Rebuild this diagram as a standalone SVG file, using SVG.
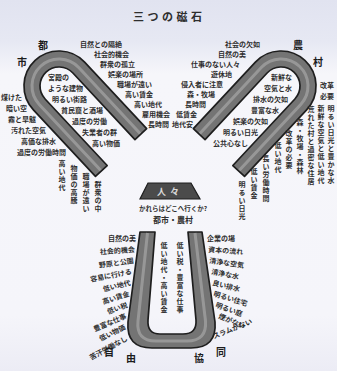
<svg xmlns="http://www.w3.org/2000/svg" width="337" height="371" viewBox="0 0 337 371">
<defs>
<linearGradient id="bg" x1="0" y1="0" x2="0" y2="1">
<stop offset="0" stop-color="#e1e3f0"/>
<stop offset="0.11" stop-color="#e6e8f3"/>
<stop offset="0.2" stop-color="#f6f6fa"/>
<stop offset="0.85" stop-color="#f5f5fa"/>
<stop offset="1" stop-color="#ececf5"/>
</linearGradient>
<path id="hs" d="M-35,91 L-35,0 A35,35 0 0 1 35,0 L35,91 L19,91 L19,0 A19,19 0 0 0 -19,0 L-19,91 Z"/>
<path id="hsl" d="M-27,90 L-27,0 A27,27 0 0 1 27,0 L27,90"/>
</defs>
<style>
.t{font-family:"Noto Sans CJK JP","Noto Sans CJK SC",sans-serif;font-size:7px;font-weight:700;fill:#2e2e2e}
.v{writing-mode:vertical-rl;letter-spacing:1px}
.e{text-anchor:end}
.m{text-anchor:middle}
.lb{font-size:10px;fill:#1c1c1c}
.mag{fill:#747474;stroke:#1e1e1e;stroke-width:1.7;stroke-linejoin:round}
.hl{fill:none;stroke:#ababab;stroke-width:3;opacity:.65}
</style>
<rect width="337" height="371" fill="url(#bg)"/>

<g id="title"><text class="t" x="133" y="21" style="font-size:11px;letter-spacing:3.5px">三つの磁石</text></g>

<g id="town">
<g transform="translate(59,86) rotate(-43)">
<use href="#hs" class="mag"/>
<use href="#hsl" class="hl"/>
</g>
<text class="t lb" x="38" y="49">都</text>
<text class="t lb" x="17" y="66">市</text>
<text class="t" x="80" y="47">自然との隔絶</text>
<text class="t" x="94" y="57">社会的機会</text>
<text class="t" x="100" y="67">群衆の孤立</text>
<text class="t" x="108" y="77">娯楽の場所</text>
<text class="t" x="117" y="87">職場が遠い</text>
<text class="t" x="125" y="97">高い賃金</text>
<text class="t" x="134" y="107">高い地代</text>
<text class="t" x="142" y="117">雇用機会</text>
<text class="t" x="148" y="127">長時間</text>
<text class="t" x="48" y="80">宮殿の</text>
<text class="t" x="48" y="91">ような建物</text>
<text class="t" x="52" y="102">明るい街路</text>
<text class="t" x="61" y="113">貧民窟と酒場</text>
<text class="t" x="72" y="124">過度の労働</text>
<text class="t" x="82" y="135">失業者の群</text>
<text class="t" x="92" y="146">高い物価</text>
<text class="t e" x="22" y="100">煤けた</text>
<text class="t e" x="27" y="111">暗い空</text>
<text class="t e" x="36" y="122">霧と旱魃</text>
<text class="t e" x="46" y="133">汚れた空気</text>
<text class="t e" x="56" y="144">高価な排水</text>
<text class="t e" x="66" y="155">過度の労働時間</text>
<text class="t v" x="62" y="160">高い地代</text>
<text class="t v" x="74" y="165">物価の高騰</text>
<text class="t v" x="86" y="173">職場が遠い</text>
<text class="t v" x="98" y="181">群衆の中</text>
</g>

<g id="country">
<g transform="translate(281,86) rotate(43)">
<use href="#hs" class="mag"/>
<use href="#hsl" class="hl"/>
</g>
<text class="t lb" x="293" y="49">農</text>
<text class="t lb" x="313" y="66">村</text>
<text class="t e" x="260" y="47">社会の欠如</text>
<text class="t e" x="246" y="57">自然の美</text>
<text class="t e" x="240" y="67">仕事のない人々</text>
<text class="t e" x="232" y="77">遊休地</text>
<text class="t e" x="223" y="87">侵入者に注意</text>
<text class="t e" x="215" y="97">森・牧場</text>
<text class="t e" x="206" y="107">長時間</text>
<text class="t e" x="197" y="117">低賃金</text>
<text class="t e" x="193" y="127">地代安</text>
<text class="t e" x="292" y="80">新鮮な</text>
<text class="t e" x="292" y="91">空気と水</text>
<text class="t e" x="288" y="102">排水の欠如</text>
<text class="t e" x="279" y="113">豊富な水</text>
<text class="t e" x="268" y="124">娯楽の欠如</text>
<text class="t e" x="258" y="135">明るい日光</text>
<text class="t e" x="248" y="146">公共心なし</text>
<text class="t" x="320" y="88">改革</text>
<text class="t" x="320" y="99">必要</text>
<text class="t v" x="331" y="105">明るい日光と豊かな水</text>
<text class="t v" x="321" y="105">新鮮な空気と低い地代</text>
<text class="t v" x="311" y="106">荒れた村と過密な住居</text>
<text class="t v" x="300" y="119">森・牧場・森林</text>
<text class="t v" x="289" y="130">改革の必要</text>
<text class="t v" x="278" y="142">低い地代</text>
<text class="t v" x="266" y="155">長い労働時間</text>
<text class="t v" x="254" y="168">低い賃金</text>
<text class="t v" x="242" y="181">明るい日光</text>
</g>

<g id="people">
<polygon points="148,183 191,183 200,199 140,199" fill="#4b4b4b" stroke="#1e1e1e" stroke-width="1.2"/>
<text class="t m" x="170" y="195" style="fill:#d8d8d8;font-size:9px;letter-spacing:4px">人々</text>
<text class="t m" x="173" y="211" style="font-size:6.5px">かれらはどこへ行くか?</text>
<text class="t m" x="173" y="223" style="font-size:8px">都市・農村</text>
</g>

<g id="town-country">
<path class="mag" d="M140,232 L128,322 Q126,348 152,348 L191,348 Q217,348 215,322 L202,232 L188,232 L196,320 Q197,334 183,334 L160,334 Q147,334 148,320 L155,232 Z"/>
<path class="hl" d="M147.5,233 L138,321 Q136,341 156,341 L187,341 Q207,341 205.5,321 L195,233"/>
<text class="t v" x="164" y="242">低い地代・高い賃金</text>
<text class="t v" x="180" y="242">低い税・豊富な仕事</text>
<text class="t e" transform="translate(136,241)">自然の美</text>
<text class="t e" transform="translate(135,252) rotate(-4)">社会的機会</text>
<text class="t e" transform="translate(134,263) rotate(-8)">野原と公園</text>
<text class="t e" transform="translate(132,274) rotate(-11)">容易に行ける</text>
<text class="t e" transform="translate(131,285) rotate(-14)">低い地代</text>
<text class="t e" transform="translate(130,296) rotate(-17)">高い賃金</text>
<text class="t e" transform="translate(128,307) rotate(-20)">低い税</text>
<text class="t e" transform="translate(127,318) rotate(-23)">豊富な仕事</text>
<text class="t e" transform="translate(126,329) rotate(-26)">低い物価</text>
<text class="t e" transform="translate(128,340) rotate(-29)">苦汗労働なし</text>
<text class="t" transform="translate(207,241)">企業の場</text>
<text class="t" transform="translate(208,252) rotate(4)">資本の流れ</text>
<text class="t" transform="translate(209,263) rotate(8)">清浄な空気</text>
<text class="t" transform="translate(211,274) rotate(11)">清浄な水</text>
<text class="t" transform="translate(212,285) rotate(14)">良い排水</text>
<text class="t" transform="translate(213,296) rotate(17)">明るい住宅</text>
<text class="t" transform="translate(215,307) rotate(20)">明るい庭</text>
<text class="t" transform="translate(218,318) rotate(23)">煙がない</text>
<text class="t" transform="translate(214,339) rotate(-22)">スラムがない</text>
<text class="t lb" x="104" y="356">自</text>
<text class="t lb" x="126" y="362">由</text>
<text class="t lb" x="194" y="362">協</text>
<text class="t lb" x="216" y="356">同</text>
</g>
</svg>
